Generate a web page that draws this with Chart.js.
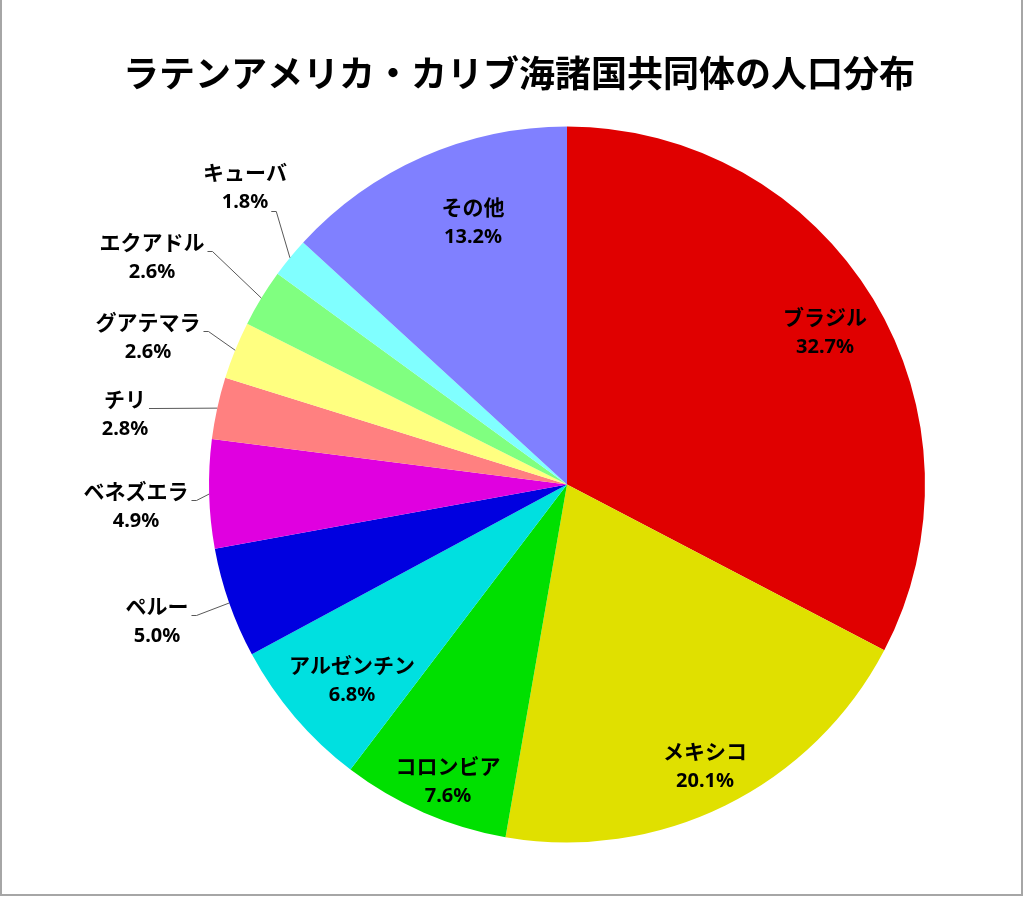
<!DOCTYPE html>
<html>
<head>
<meta charset="utf-8">
<script src="https://cdn.jsdelivr.net/npm/chart.js@4"></script>
<style>
html,body{margin:0;padding:0;background:#fff;}
#wrap{position:absolute;left:0;top:0;width:1024px;height:897px;}
canvas{display:block;}
</style>
</head>
<body>
<div id="wrap"><canvas id="c" width="1024" height="897"></canvas></div>
<script>
const chartTitle = 'ラテンアメリカ・カリブ海諸国共同体の人口分布';
const categories = ['ブラジル','メキシコ','コロンビア','アルゼンチン','ペルー','ベネズエラ','チリ','グアテマラ','エクアドル','キューバ','その他'];
const shares = [32.7, 20.1, 7.6, 6.8, 5.0, 4.9, 2.8, 2.6, 2.6, 1.8, 13.2];
const sliceColors = ['#E00000','#E0E000','#00E000','#00E0E0','#0000E0','#E000E0','#FF8080','#FFFF80','#80FF80','#80FFFF','#8080FF'];
// label placement (offset of label block centre from pie centre) and leader attachment
const labelOffsets = [[258,-152],[138,282],[-119,297],[-215,196],[-410,137],[-431,22],[-442,-70],[-419,-147],[-415,-227],[-322,-297],[-94,-262]];
const leaderFrom = [null,null,null,null,'name','name','name','name','name','pct',null];

const labelPlugin = {
  id: 'sliceLabels',
  afterDatasetsDraw(chart) {
    const ctx = chart.ctx;
    const meta = chart.getDatasetMeta(0);
    const vals = chart.data.datasets[0].data;
    ctx.save();
    meta.data.forEach((arc, i) => {
      const p = arc.getProps(['x','y','startAngle','endAngle','outerRadius'], true);
      const cx = p.x + labelOffsets[i][0];
      const cy = p.y + labelOffsets[i][1];
      const name = chart.data.labels[i];
      const pct = vals[i].toFixed(1) + '%';
      ctx.fillStyle = '#000';
      ctx.textAlign = 'center';
      ctx.textBaseline = 'middle';
      ctx.font = 'bold 21px "Noto Sans CJK JP"';
      const nameW = ctx.measureText(name).width;
      ctx.fillText(name, cx, cy - 15);
      ctx.font = 'bold 20px "Noto Sans", "Noto Sans CJK JP"';
      const pctW = ctx.measureText(pct).width;
      ctx.fillText(pct, cx, cy + 15);
      if (leaderFrom[i]) {
        const mid = (p.startAngle + p.endAngle) / 2;
        const ex = p.x + p.outerRadius * Math.cos(mid);
        const ey = p.y + p.outerRadius * Math.sin(mid);
        let sx, sy;
        if (leaderFrom[i] === 'name') { sx = cx + nameW / 2 + 3; sy = cy - 15 + 9; }
        else { sx = cx + pctW / 2 + 3; sy = cy + 15 + 9; }
        ctx.strokeStyle = '#595959';
        ctx.lineWidth = 1;
        ctx.beginPath();
        ctx.moveTo(sx, sy);
        const hx = Math.min(sx + 5, ex);
        ctx.lineTo(hx, sy);
        ctx.lineTo(ex, ey);
        ctx.stroke();
      }
    });
    ctx.restore();
  }
};

const framePlugin = {
  id: 'frameAndTitle',
  beforeDraw(chart) {
    const ctx = chart.ctx;
    ctx.save();
    ctx.fillStyle = '#fff';
    ctx.fillRect(0, 0, chart.width, chart.height);
    ctx.restore();
  },
  afterDraw(chart) {
    const ctx = chart.ctx;
    ctx.save();
    ctx.strokeStyle = '#a6a6a6';
    ctx.lineWidth = 2;
    ctx.strokeRect(1, -5, 1021, 900);
    ctx.fillStyle = '#000';
    ctx.font = 'bold 36px "Noto Sans CJK JP"';
    ctx.textAlign = 'center';
    ctx.textBaseline = 'middle';
    ctx.fillText(chartTitle, 519, 73);
    ctx.restore();
  }
};

new Chart(document.getElementById('c'), {
  type: 'pie',
  data: {
    labels: categories,
    datasets: [{
      data: shares,
      backgroundColor: sliceColors,
      borderWidth: 0
    }]
  },
  options: {
    responsive: false,
    devicePixelRatio: 1,
    animation: false,
    layout: { padding: { top: 126, bottom: 54, left: 209, right: 99 } },
    plugins: {
      legend: { display: false },
      title: { display: false },
      tooltip: { enabled: false }
    }
  },
  plugins: [labelPlugin, framePlugin]
});
</script>
</body>
</html>
